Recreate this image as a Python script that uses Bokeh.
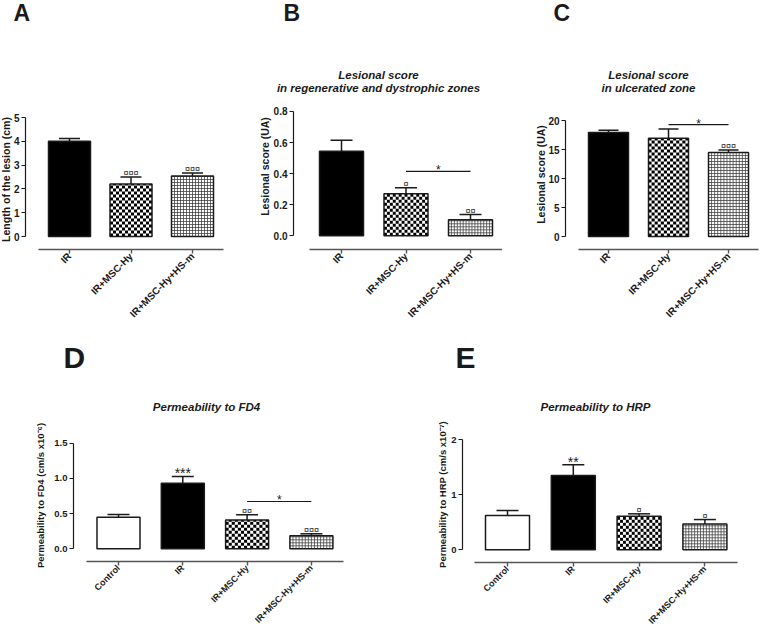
import math
from bokeh.plotting import figure
from bokeh.models import Range1d, FixedTicker, Whisker, TeeHead, ColumnDataSource
from bokeh.layouts import row, column
from bokeh.core.properties import value
from bokeh.embed import file_html
from bokeh.resources import INLINE

FONT = "Liberation Sans"
INK = "#1a1a1a"

# ---------------- data ----------------
groups3 = ["IR", "IR+MSC-Hy", "IR+MSC-Hy+HS-m"]
groups4 = ["Control", "IR", "IR+MSC-Hy", "IR+MSC-Hy+HS-m"]

A_mean = [4.00, 2.21, 2.54]
A_sem = [0.12, 0.29, 0.13]
A_star = ["", "", ""]
A_cur = ["", "¤¤¤", "¤¤¤"]
A_yticks = [0, 1, 2, 3, 4, 5]
A_ylabels = ["0", "1", "2", "3", "4", "5"]

B_mean = [0.544, 0.270, 0.103]
B_sem = [0.071, 0.039, 0.034]
B_star = ["", "", ""]
B_cur = ["", "¤", "¤¤"]
B_yticks = [0.0, 0.2, 0.4, 0.6, 0.8]
B_ylabels = ["0.0", "0.2", "0.4", "0.6", "0.8"]
B_pair = [2, 3]
B_pair_y = 0.415

C_mean = [17.95, 16.95, 14.5]
C_sem = [0.35, 1.6, 0.4]
C_star = ["", "", ""]
C_cur = ["", "", "¤¤¤"]
C_yticks = [0, 5, 10, 15, 20]
C_ylabels = ["0", "5", "10", "15", "20"]
C_pair = [2, 3]
C_pair_y = 19.3

D_mean = [0.449, 0.930, 0.410, 0.185]
D_sem = [0.038, 0.097, 0.073, 0.028]
D_star = ["", "***", "", ""]
D_cur = ["", "", "¤¤", "¤¤¤"]
D_yticks = [0.0, 0.5, 1.0, 1.5]
D_ylabels = ["0.0", "0.5", "1.0", "1.5"]
D_pair = [3, 4]
D_pair_y = 0.672

E_mean = [0.623, 1.35, 0.61, 0.47]
E_sem = [0.091, 0.195, 0.044, 0.08]
E_star = ["", "**", "", ""]
E_cur = ["", "", "¤", "¤"]
E_yticks = [0, 1, 2]
E_ylabels = ["0", "1", "2"]

# ---------------- layout geometry (page pixels) ----------------
# ox/oy/w/h: figure box; ax: x of the y-axis line; ay: y of the x-axis line
# xc1: x of first group, dx: group spacing; y0px: y of value 0, ky: px per unit
gA = dict(ox=0, oy=0, w=240, h=333, ax=25, ay=249,
          xc1=69, dx=61.5, bwpx=42, y0px=236, ky=23.8, yfs="10px", xfs="10px")
gB = dict(ox=240, oy=0, w=262, h=333, ax=293, ay=249,
          xc1=341, dx=64.5, bwpx=44, y0px=235.3, ky=155.4, yfs="10px", xfs="10px")
gC = dict(ox=502, oy=0, w=258, h=333, ax=565, ay=249,
          xc1=608, dx=60, bwpx=40, y0px=236, ky=5.8, yfs="10px", xfs="10px")
gD = dict(ox=0, oy=333, w=380, h=297, ax=73, ay=561,
          xc1=118, dx=64.3, bwpx=43, y0px=548.3, ky=70.4, yfs="9.5px", xfs="9px")
gE = dict(ox=380, oy=333, w=380, h=297, ax=462, ay=562,
          xc1=507, dx=65.8, bwpx=44, y0px=549.3, ky=55.0, yfs="9.5px", xfs="9px")


def to_data(g, sx, sy):
    return 1 + (sx - g["xc1"]) / g["dx"], (g["y0px"] - sy) / g["ky"]


def add_text(p, g, text, sx, sy, size, style="bold", align="left", angle=0.0):
    # (sx, sy) is where the text baseline should sit; the renderer draws the
    # baseline about 0.35 em below/right of the anchor, so compensate.
    shift = 0.35 * float(size.replace("px", ""))
    if angle == 0.0:
        sy = sy - shift
    else:
        sx = sx - shift
    x, y = to_data(g, sx, sy)
    p.text(x=[x], y=[y], text=[text], text_font=value(FONT), text_font_size=size,
           text_font_style=style, text_align=align, text_baseline="alphabetic",
           angle=angle, text_color=INK)


def texture(p, g, xc, top, kind):
    cell = 3.0
    ncol = max(1, int(round(g["bwpx"] / cell)))
    cw = (g["bwpx"] / g["dx"]) / ncol
    ch = cell / g["ky"]
    left = xc - g["bwpx"] / g["dx"] / 2
    nrow = int(math.ceil(top / ch))
    if kind == "checker":
        L, R, B, T = [], [], [], []
        for r in range(nrow):
            for c in range(ncol):
                if (r + c) % 2 == 0:
                    L.append(left + c * cw)
                    R.append(left + (c + 1) * cw)
                    B.append(r * ch)
                    T.append(min((r + 1) * ch, top))
        p.quad(left=L, right=R, bottom=B, top=T, fill_color="black", line_color=None)
    else:
        x0s, x1s, y0s, y1s = [], [], [], []
        for c in range(1, ncol):
            x0s.append(left + c * cw); x1s.append(left + c * cw)
            y0s.append(0); y1s.append(top)
        r = 1
        while r * ch < top:
            x0s.append(left); x1s.append(left + ncol * cw)
            y0s.append(r * ch); y1s.append(r * ch)
            r += 1
        p.segment(x0=x0s, x1=x1s, y0=y0s, y1=y1s, line_color="#3c3c3c",
                  line_width=0.9, line_alpha=0.85)


FILL = {"Control": "white", "IR": "black", "IR+MSC-Hy": "white", "IR+MSC-Hy+HS-m": "white"}
TEXTURE = {"IR+MSC-Hy": "checker", "IR+MSC-Hy+HS-m": "grid"}


def make_panel(groups, mean, sem, star, cur, yticks, ylabels, g, pair=None, pair_y=None):
    n = len(groups)
    xs = list(range(1, n + 1))
    x0, y1 = to_data(g, g["ox"], g["oy"])
    x1, y0 = to_data(g, g["ox"] + g["w"], g["oy"] + g["h"])
    axis_x, _ = to_data(g, g["ax"], 0)
    _, axis_y = to_data(g, 0, g["ay"])
    bw = g["bwpx"] / g["dx"]
    p = figure(width=g["w"], height=g["h"], min_border_left=0, min_border_right=0,
               min_border_top=0, min_border_bottom=0,
               x_range=Range1d(x0, x1), y_range=Range1d(y0, y1),
               output_backend="svg", toolbar_location=None, tools="", title=None)
    p.outline_line_color = None
    p.xgrid.visible = False
    p.ygrid.visible = False
    p.background_fill_color = "white"
    p.border_fill_color = "white"

    for i, grp in enumerate(groups):
        p.vbar(x=[xs[i]], top=[mean[i]], bottom=0, width=bw,
               fill_color=FILL[grp], line_color=None)
        if grp in TEXTURE:
            texture(p, g, xs[i], mean[i], TEXTURE[grp])
        p.vbar(x=[xs[i]], top=[mean[i]], bottom=0, width=bw, fill_alpha=0,
               line_color=INK, line_width=1.5)

    upper = [m + s for m, s in zip(mean, sem)]
    src = ColumnDataSource(dict(x=xs, top=mean, upper=upper, star=star, cur=cur))
    p.add_layout(Whisker(source=src, base="x", lower="top", upper="upper",
                         dimension="height", line_color=INK, line_width=1.5,
                         upper_head=TeeHead(size=int(round(g["bwpx"] / 2)),
                                            line_color=INK, line_width=1.5),
                         lower_head=None))
    p.text(x="x", y="upper", text="cur", source=src, text_font=value(FONT),
           text_font_size="9px", text_align="center", text_baseline="alphabetic",
           y_offset=-4, text_color=INK)
    p.text(x="x", y="upper", text="star", source=src, text_font=value(FONT),
           text_font_size="14px", text_align="center", text_baseline="alphabetic",
           y_offset=-3, text_color=INK)

    if pair is not None:
        p.segment(x0=[pair[0]], x1=[pair[1]], y0=[pair_y], y1=[pair_y],
                  line_color=INK, line_width=1.2)
        p.text(x=[(pair[0] + pair[1]) / 2], y=[pair_y], text=["*"],
               text_font=value(FONT), text_font_size="12px", text_align="center",
               text_baseline="alphabetic", y_offset=-1, text_color=INK)

    ya = p.yaxis[0]
    ya.fixed_location = axis_x
    ya.ticker = FixedTicker(ticks=yticks)
    ya.major_label_overrides = {t: l for t, l in zip(yticks, ylabels)}
    ya.bounds = (yticks[0], yticks[-1])
    ya.minor_tick_line_color = None
    ya.major_tick_in = 0
    ya.major_tick_out = 4
    ya.major_label_standoff = 2
    ya.axis_line_color = INK
    ya.axis_line_width = 1.2
    ya.major_tick_line_color = INK
    ya.major_tick_line_width = 1.2
    ya.major_label_text_font = FONT
    ya.major_label_text_font_size = g["yfs"]
    ya.major_label_text_font_style = "bold"
    ya.major_label_text_color = INK

    xa = p.xaxis[0]
    xa.fixed_location = axis_y
    xa.ticker = FixedTicker(ticks=xs)
    xa.major_label_overrides = {x: lab for x, lab in zip(xs, groups)}
    xa.bounds = (0.5, n + 0.5)
    xa.major_label_orientation = math.pi / 4
    xa.minor_tick_line_color = None
    xa.major_tick_in = 0
    xa.major_tick_out = 4
    xa.major_label_standoff = 1
    xa.axis_line_color = "#555555"
    xa.axis_line_width = 1.6
    xa.major_tick_line_color = "#555555"
    xa.major_tick_line_width = 1.4
    xa.major_label_text_font = FONT
    xa.major_label_text_font_size = g["xfs"]
    xa.major_label_text_font_style = "bold"
    xa.major_label_text_color = INK
    return p


pA = make_panel(groups3, A_mean, A_sem, A_star, A_cur, A_yticks, A_ylabels, gA)
pB = make_panel(groups3, B_mean, B_sem, B_star, B_cur, B_yticks, B_ylabels, gB,
                B_pair, B_pair_y)
pC = make_panel(groups3, C_mean, C_sem, C_star, C_cur, C_yticks, C_ylabels, gC,
                C_pair, C_pair_y)
pD = make_panel(groups4, D_mean, D_sem, D_star, D_cur, D_yticks, D_ylabels, gD,
                D_pair, D_pair_y)
pE = make_panel(groups4, E_mean, E_sem, E_star, E_cur, E_yticks, E_ylabels, gE)

# panel letters
add_text(pA, gA, "A", 13, 21, "23px")
add_text(pB, gB, "B", 283, 21, "23px")
add_text(pC, gC, "C", 553, 21, "23px")
add_text(pD, gD, "D", 63, 367, "30px")
add_text(pE, gE, "E", 455, 367, "30px")

# titles
add_text(pB, gB, "Lesional score", 378, 79, "11.5px", "bold italic", "center")
add_text(pB, gB, "in regenerative and dystrophic zones", 378, 92, "11.5px", "bold italic", "center")
add_text(pC, gC, "Lesional score", 648, 79, "11.5px", "bold italic", "center")
add_text(pC, gC, "in ulcerated zone", 648, 92, "11.5px", "bold italic", "center")
add_text(pD, gD, "Permeability to FD4", 206, 411, "11.5px", "bold italic", "center")
add_text(pE, gE, "Permeability to HRP", 595, 411, "11.5px", "bold italic", "center")

# y-axis titles (rotated)
add_text(pA, gA, "Length of the lesion (cm)", 9.5, 179, "10.5px", "bold", "center", math.pi / 2)
add_text(pB, gB, "Lesional score (UA)", 268.5, 166, "10.5px", "bold", "center", math.pi / 2)
add_text(pC, gC, "Lesional score (UA)", 544.5, 174, "10.5px", "bold", "center", math.pi / 2)
add_text(pD, gD, "Permeability to FD4 (cm/s x10\u207b\u2076)", 43.5, 495, "9.5px", "bold", "center", math.pi / 2)
add_text(pE, gE, "Permeability to HRP (cm/s x10\u207b\u2077)", 445, 494, "9.5px", "bold", "center", math.pi / 2)

layout = column(row(pA, pB, pC), row(pD, pE))
open("out.html", "w").write(file_html(layout, INLINE))
